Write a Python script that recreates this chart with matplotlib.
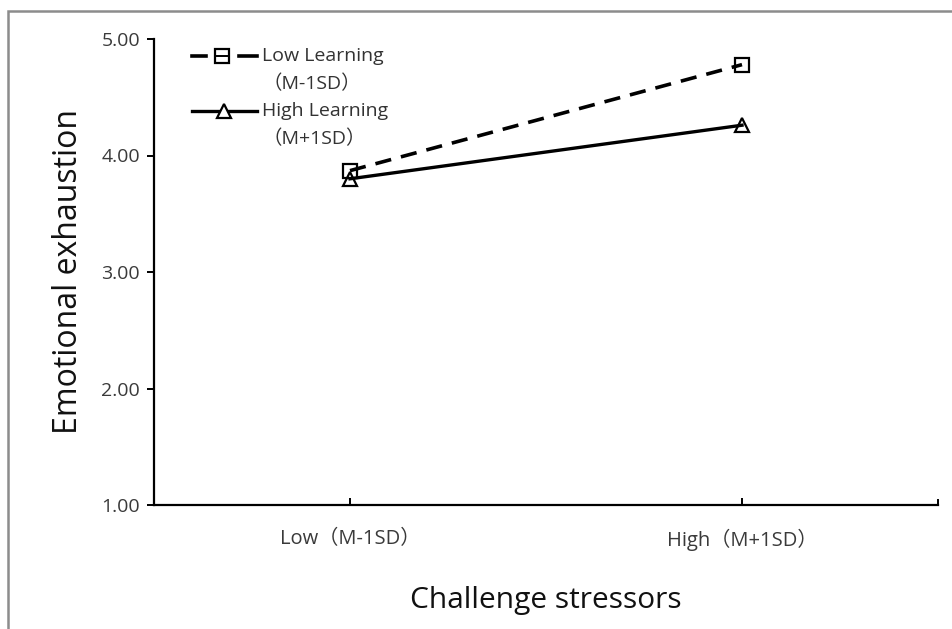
import matplotlib
matplotlib.use("Agg")
import matplotlib.pyplot as plt
from matplotlib.lines import Line2D
from matplotlib.patches import Rectangle

plt.rcParams['font.family'] = ['Open Sans', 'Noto Sans CJK SC', 'DejaVu Sans']

categories = ["Low（M-1SD）", "High（M+1SD）"]
low_learning = [3.87, 4.78]
high_learning = [3.80, 4.26]
series_labels = [["Low Learning", "（M-1SD）"], ["High Learning", "（M+1SD）"]]
y_ticks = [1.0, 2.0, 3.0, 4.0, 5.0]
x_label = "Challenge stressors"
y_label = "Emotional exhaustion"

W, H = 953, 629
fig = plt.figure(figsize=(W / 100, H / 100), dpi=100)
ax = fig.add_axes([154 / W, 1 - 505 / H, (938 - 154) / W, (505 - 39) / H])

# outer gray frame
fig.patches.append(Rectangle((8 / W, -0.1), 1.2, 1 - 11 / H + 0.1, transform=fig.transFigure,
                             fill=False, edgecolor='#8c8c8c', lw=1.8, zorder=0))

x = list(range(len(categories)))
ax.plot(x, low_learning, color='black', lw=2.6, dashes=(4.5, 2.8),
        marker='s', ms=10, mfc='none', mec='black', mew=1.6, zorder=3)
ax.plot(x, high_learning, color='black', lw=2.4,
        marker='^', ms=10, mfc='none', mec='black', mew=1.6, zorder=3)

ax.set_xlim(-0.5, 1.5)
ax.set_ylim(1.0, 5.0)
ax.set_yticks(y_ticks)
ax.set_yticklabels([f"{v:.2f}" for v in y_ticks])
ax.set_xticks(x)
ax.set_xticklabels(categories)

for s in ['top', 'right']:
    ax.spines[s].set_visible(False)
for s in ['left', 'bottom']:
    ax.spines[s].set_linewidth(1.6)
    ax.spines[s].set_color('black')

ax.tick_params(axis='y', direction='out', length=5, width=1.4, pad=5,
               labelsize=14, labelcolor='#3a3a3a')
ax.tick_params(axis='x', direction='in', length=5, width=1.4, pad=17,
               labelsize=14.5, labelcolor='#3a3a3a')
# end tick on x axis
ax.plot([1.5, 1.5], [1.0, 1.0 + 5 / 116.5], color='black', lw=1.4, clip_on=False)

ax.set_xlabel(x_label, fontsize=21.5, color='#111111', labelpad=25)
ax.set_ylabel(y_label, fontsize=23, color='#111111', labelpad=12)

# manual legend (axes fraction)
def fx(px):
    return (px - 154) / 784
def fy(py):
    return (505 - py) / 466

tr = ax.transAxes
y1 = fy(56)
ax.add_line(Line2D([fx(192), fx(206)], [y1, y1], transform=tr, color='black', lw=2.6, clip_on=False))
ax.add_line(Line2D([fx(239), fx(257)], [y1, y1], transform=tr, color='black', lw=2.6, clip_on=False))
ax.add_line(Line2D([fx(222)], [y1], transform=tr, marker='s', ms=10, mfc='none', mec='black',
                   mew=1.6, ls='none', clip_on=False))
ax.add_line(Line2D([fx(222)], [y1], transform=tr, marker='_', ms=8, mec='black',
                   mew=1.4, ls='none', clip_on=False))
y2 = fy(111)
ax.add_line(Line2D([fx(192), fx(257)], [y2, y2], transform=tr, color='black', lw=2.4, clip_on=False))
ax.add_line(Line2D([fx(224)], [y2], transform=tr, marker='^', ms=10, mfc='white', mec='black',
                   mew=1.6, ls='none', clip_on=False))

for lab, ys in zip(series_labels, [(56, 84), (111, 139)]):
    ax.text(fx(262), fy(ys[0]), lab[0], transform=tr, fontsize=14, color='#333333',
            va='center', ha='left')
    ax.text(fx(262), fy(ys[1]), lab[1], transform=tr, fontsize=14, color='#333333',
            va='center', ha='left')

fig.savefig("out.png", dpi=100, facecolor='white')
